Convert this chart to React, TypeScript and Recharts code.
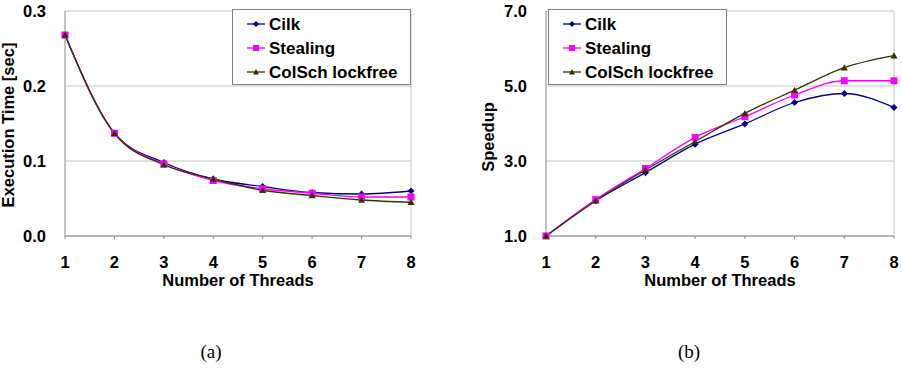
import React from "react";
import {
  LineChart,
  Line,
  XAxis,
  YAxis,
  CartesianGrid,
  Legend,
  ReferenceLine,
} from "recharts";

// thread counts on the x axis
const threads = [1, 2, 3, 4, 5, 6, 7, 8];

// (a) execution time in seconds
const cilkTime = [0.268, 0.137, 0.098, 0.076, 0.066, 0.058, 0.056, 0.06];
const stealingTime = [0.268, 0.137, 0.096, 0.074, 0.063, 0.057, 0.052, 0.052];
const colschTime = [0.268, 0.137, 0.095, 0.076, 0.061, 0.054, 0.048, 0.045];
const timeTicks = [0, 0.1, 0.2, 0.3];

// (b) speedup relative to one thread
const cilkSpeedup = [1.0, 1.94, 2.69, 3.45, 3.99, 4.56, 4.8, 4.43];
const stealingSpeedup = [1.0, 1.97, 2.8, 3.63, 4.18, 4.76, 5.14, 5.14];
const colschSpeedup = [1.0, 1.94, 2.76, 3.52, 4.27, 4.89, 5.49, 5.81];
const speedupTicks = [1, 3, 5, 7];

type Shape = "diamond" | "square" | "triangle";

const series: { key: string; name: string; color: string; shape: Shape }[] = [
  { key: "cilk", name: "Cilk", color: "#000080", shape: "diamond" },
  { key: "stealing", name: "Stealing", color: "#ff00ff", shape: "square" },
  { key: "colsch", name: "ColSch lockfree", color: "#333300", shape: "triangle" },
];

const timeRows = threads.map((t, i) => ({
  threads: t,
  cilk: cilkTime[i],
  stealing: stealingTime[i],
  colsch: colschTime[i],
}));

const speedupRows = threads.map((t, i) => ({
  threads: t,
  cilk: cilkSpeedup[i],
  stealing: stealingSpeedup[i],
  colsch: colschSpeedup[i],
}));

const FONT = '"Liberation Sans", Arial, sans-serif';
const tickStyle = { fontSize: 16.5, fontWeight: 700, fill: "#000", fontFamily: FONT };

function Marker({ cx, cy, shape, color, size = 7 }: { cx?: number; cy?: number; shape: Shape; color: string; size?: number }) {
  if (cx == null || cy == null) return null;
  const h = size / 2;
  if (shape === "diamond") {
    return <polygon points={`${cx},${cy - h} ${cx + h},${cy} ${cx},${cy + h} ${cx - h},${cy}`} fill={color} />;
  }
  if (shape === "square") {
    return <rect x={cx - h} y={cy - h} width={size} height={size} fill={color} />;
  }
  return <polygon points={`${cx},${cy - h} ${cx + h},${cy + h * 0.8} ${cx - h},${cy + h * 0.8}`} fill={color} />;
}

function LegendBox() {
  return (
    <div
      style={{
        boxSizing: "border-box",
        width: 179,
        height: 76,
        border: "1.5px solid #808080",
        background: "#fff",
        paddingTop: 2,
        fontFamily: FONT,
        fontWeight: 700,
        fontSize: 17,
        color: "#000",
      }}
    >
      {series.map((s) => (
        <div key={s.key} style={{ display: "flex", alignItems: "center", height: 24 }}>
          <svg width={35} height={12} style={{ display: "block" }}>
            <line x1={14} x2={32} y1={6} y2={6} stroke={s.color} strokeWidth={1.3} />
            <Marker cx={23} cy={6} shape={s.shape} color={s.color} size={6} />
          </svg>
          <span style={{ marginLeft: 1, lineHeight: "17px" }}>{s.name}</span>
        </div>
      ))}
    </div>
  );
}

function YTitle({ tx, ty, text }: { tx: number; ty: number; text: string }) {
  return (
    <text
      x={tx}
      y={ty}
      transform={`rotate(-90 ${tx} ${ty})`}
      textAnchor="middle"
      dominantBaseline="central"
      style={tickStyle}
    >
      {text}
    </text>
  );
}

// value labels on the y axis, right-aligned against the axis
function YTick({ x, y, payload }: any) {
  return (
    <text x={x} y={y} textAnchor="end" dominantBaseline="central" style={tickStyle}>
      {Number(payload.value).toFixed(1)}
    </text>
  );
}

interface PanelProps {
  rows: Record<string, number>[];
  ticks: number[];
  yWidth: number;
  rightMargin: number;
  yTitle: string;
  titleX: number;
  titleY: number;
  legendLeft: number;
}

function Panel({ rows, ticks, yWidth, rightMargin, yTitle, titleX, titleY, legendLeft }: PanelProps) {
  return (
    <LineChart
      width={451}
      height={300}
      data={rows}
      margin={{ top: 11, right: rightMargin, bottom: 14, left: 0 }}
    >
      <CartesianGrid vertical={false} stroke="#c4c4c4" />
      <XAxis
        dataKey="threads"
        type="number"
        domain={[1, 8]}
        ticks={threads}
        height={50}
        tick={tickStyle}
        tickSize={3}
        tickMargin={17}
        stroke="#8a8a8a"
        label={{
          value: "Number of Threads",
          position: "insideBottom",
          offset: 0,
          style: tickStyle,
        }}
      />
      <YAxis
        type="number"
        domain={[ticks[0], ticks[ticks.length - 1]]}
        ticks={ticks}
        width={yWidth}
        tick={<YTick />}
        tickSize={0}
        tickMargin={19}
        stroke="#8a8a8a"
        label={<YTitle tx={titleX} ty={titleY} text={yTitle} />}
      />
      <ReferenceLine x={8} stroke="#c4c4c4" />
      <Legend
        layout="vertical"
        align="center"
        verticalAlign="middle"
        wrapperStyle={{ left: legendLeft, top: 9, width: 179, height: 76 }}
        content={<LegendBox />}
      />
      {series.map((s) => (
        <Line
          key={s.key}
          dataKey={s.key}
          name={s.name}
          type="monotone"
          stroke={s.color}
          strokeWidth={1.3}
          isAnimationActive={false}
          dot={(p: any) => (
            <Marker key={`${s.key}-${p.index}`} cx={p.cx} cy={p.cy} shape={s.shape} color={s.color} />
          )}
          activeDot={false}
        />
      ))}
    </LineChart>
  );
}

const captionStyle: React.CSSProperties = {
  position: "absolute",
  top: 341,
  width: 60,
  textAlign: "center",
  fontFamily: '"Liberation Serif", "DejaVu Serif", serif',
  fontSize: 19,
  color: "#000",
};

export default function App() {
  return (
    <div style={{ position: "absolute", left: 0, top: 0, width: 902, height: 374, background: "#fff" }}>
      <div style={{ position: "absolute", left: 0, top: 0 }}>
        <Panel
          rows={timeRows}
          ticks={timeTicks}
          yWidth={65}
          rightMargin={40}
          yTitle="Execution Time [sec]"
          titleX={8}
          titleY={125}
          legendLeft={232}
        />
      </div>
      <div style={{ position: "absolute", left: 451, top: 0 }}>
        <Panel
          rows={speedupRows}
          ticks={speedupTicks}
          yWidth={95}
          rightMargin={8}
          yTitle="Speedup"
          titleX={37}
          titleY={137}
          legendLeft={97}
        />
      </div>
      <div style={{ ...captionStyle, left: 181 }}>(a)</div>
      <div style={{ ...captionStyle, left: 659 }}>(b)</div>
    </div>
  );
}
